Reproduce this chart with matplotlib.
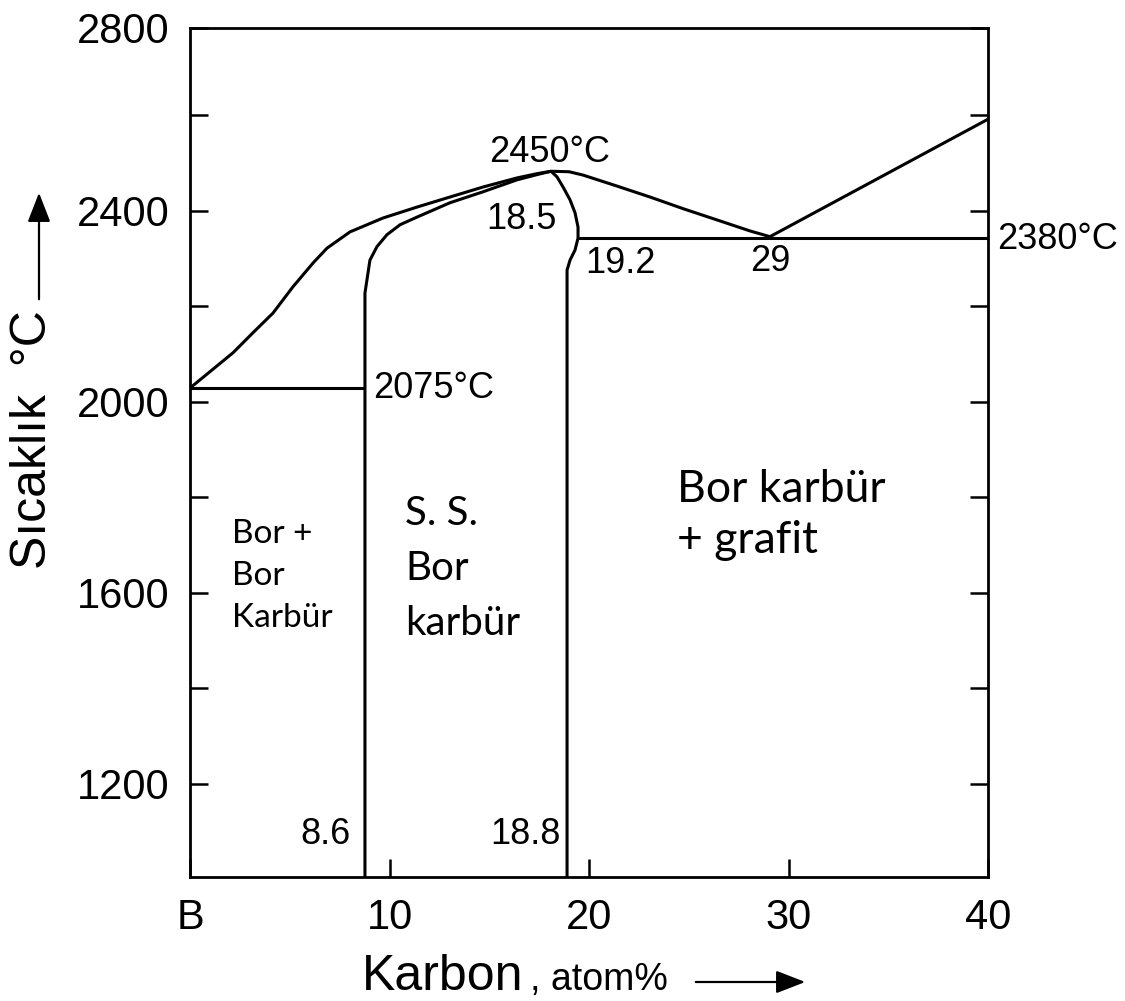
import matplotlib
matplotlib.use("Agg")
import matplotlib.pyplot as plt
from matplotlib import font_manager

narrow = "Liberation Sans Narrow"
names = set(f.name for f in font_manager.fontManager.ttflist)
if narrow not in names:
    narrow = "Liberation Sans"

# sivi egrisi (liquidus) B tarafindan 29'a kadar
liq_x = [0.0, 2.16, 3.16, 4.16, 5.16, 6.17, 6.87, 8.02, 9.67, 11.38, 13.03, 14.69,
         16.39, 17.4, 18.1, 19.0, 19.7, 21.4, 23.06, 24.76, 26.42, 28.07, 29.07]
liq_y = [2029, 2103, 2145, 2186, 2241, 2291, 2322, 2356, 2385, 2408, 2429, 2450,
         2469, 2478, 2483, 2482, 2475, 2452, 2429, 2404, 2381, 2358, 2346]

# grafit tarafi sivi egrisi
gr_x = [29.07, 40.0]
gr_y = [2346, 2592]

# bor karbur bolgesinin sol siniri
sol_x = [8.77, 8.77, 9.02, 9.37, 9.87, 10.53, 11.38, 13.03, 14.69, 16.39, 17.4, 18.1]
sol_y = [1005, 2228, 2297, 2325, 2350, 2371, 2387, 2417, 2440, 2465, 2476, 2483]

# bor karbur bolgesinin sag siniri
sag_x = [18.1, 18.4, 18.7, 19.05, 19.3, 19.45, 19.45, 19.3, 19.05, 18.9, 18.9]
sag_y = [2483, 2471, 2450, 2423, 2396, 2366, 2343, 2318, 2297, 2276, 1005]

# yatay cizgiler
ot1_x = [0.0, 8.77]
ot1_y = [2029, 2029]
ot2_x = [19.45, 40.0]
ot2_y = [2343, 2343]

xticks = [0, 10, 20, 30, 40]
xtick_labels = ["B", "10", "20", "30", "40"]
yticks = [1200, 1600, 2000, 2400, 2783]
ytick_labels = ["1200", "1600", "2000", "2400", "2800"]
yminor = [1400, 1800, 2200, 2600]

fig = plt.figure(figsize=(11.25, 10.01), dpi=100)
ax = fig.add_axes([190 / 1125, 1 - 877 / 1001, 798 / 1125, 849 / 1001])

lw = 2.2
for xs, ys in [(liq_x, liq_y), (gr_x, gr_y), (sol_x, sol_y), (sag_x, sag_y),
               (ot1_x, ot1_y), (ot2_x, ot2_y)]:
    ax.plot(xs, ys, color="black", lw=lw, solid_capstyle="butt", clip_on=False)

ax.set_xlim(0, 40)
ax.set_ylim(1005, 2783)
for s in ax.spines.values():
    s.set_linewidth(2.0)

ax.set_xticks(xticks, xtick_labels)
ax.set_yticks(yticks, ytick_labels)
ax.set_yticks(yminor, minor=True)
ax.tick_params(which="both", direction="in", length=13, width=1.8,
               right=True, top=False, labelsize=30, pad=15)
for lab in ax.get_xticklabels() + ax.get_yticklabels():
    lab.set_family(narrow)

# sayisal etiketler
ann = dict(fontsize=26, family=narrow, ha="center", va="center", clip_on=False)
ax.text(18.05, 2523, "2450°C", **ann)
ax.text(16.6, 2383, "18.5", **ann)
ax.text(21.6, 2290, "19.2", **ann)
ax.text(29.1, 2294, "29", **ann)
ax.text(43.5, 2340, "2380°C", **ann)
ax.text(12.2, 2028, "2075°C", **ann)
ax.text(6.78, 1095, "8.6", **ann)
ax.text(16.8, 1095, "18.8", **ann)

# bolge adlari
ax.text(2.1, 1755, "Bor +\nBor\nKarbür", fontsize=24, family="Lato",
        ha="left", va="top", linespacing=1.5)
ax.text(10.8, 1805, "S. S.\nBor\nkarbür", fontsize=29, family="Lato",
        ha="left", va="top", linespacing=1.6)
ax.text(24.4, 1860, "Bor karbür\n+ grafit", fontsize=32, family="Lato",
        ha="left", va="top", linespacing=1.3)

# eksen adlari
fig.text(362 / 1125, 1 - 990 / 1001, "Karbon", fontsize=36,
         family="Liberation Sans", ha="left", va="baseline")
fig.text(530 / 1125, 1 - 990 / 1001, ", atom%", fontsize=27,
         family=narrow, ha="left", va="baseline")
fig.add_artist(matplotlib.patches.FancyArrowPatch(
    (693 / 1125, 1 - 982 / 1001), (808 / 1125, 1 - 982 / 1001),
    transform=fig.transFigure, arrowstyle="-|>,head_length=0.9,head_width=0.35",
    mutation_scale=20, color="black", lw=1.6))

fig.text(33 / 1125, 1 - 440 / 1001, "Sıcaklık  °C", fontsize=36,
         family="Liberation Sans", rotation=90, ha="center", va="center")
fig.add_artist(matplotlib.patches.FancyArrowPatch(
    (39 / 1125, 1 - 302 / 1001), (39 / 1125, 1 - 190 / 1001),
    transform=fig.transFigure, arrowstyle="-|>,head_length=0.9,head_width=0.35",
    mutation_scale=20, color="black", lw=1.6))

fig.savefig("out.png", dpi=100)
